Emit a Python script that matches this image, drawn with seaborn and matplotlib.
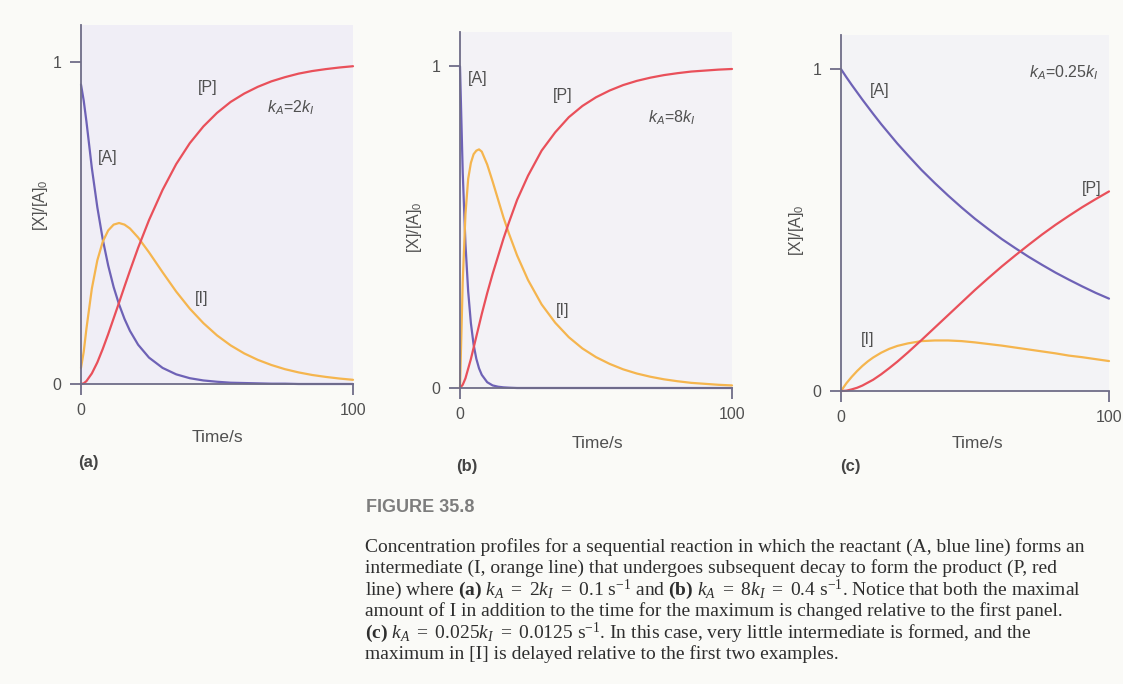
import matplotlib
matplotlib.use("Agg")
import matplotlib.pyplot as plt
import pandas as pd
import seaborn as sns

# ---- normalised concentrations [X]/[A]0 versus time (s) ----
# (a) k_A = 2 k_I
time_a = [0, 1, 2, 4, 6, 8, 10, 12, 14, 16, 18, 21, 25, 30, 35, 40, 45, 50,
          55, 60, 65, 70, 75, 80, 85, 90, 95, 100]
conc_A_a = [0.93, 0.88, 0.815, 0.670, 0.549, 0.449, 0.368, 0.301, 0.247, 0.202,
            0.165, 0.122, 0.082, 0.050, 0.030, 0.018, 0.011, 0.007, 0.004, 0.003,
            0.002, 0.001, 0.001, 0, 0, 0, 0, 0]
conc_I_a = [0.05, 0.10, 0.172, 0.297, 0.384, 0.442, 0.477, 0.495, 0.500, 0.495,
            0.483, 0.455, 0.409, 0.347, 0.287, 0.234, 0.189, 0.151, 0.120, 0.095,
            0.075, 0.059, 0.046, 0.036, 0.028, 0.022, 0.017, 0.013]
conc_P_a = [0, 0.002, 0.009, 0.033, 0.067, 0.109, 0.155, 0.204, 0.253, 0.303,
            0.352, 0.423, 0.509, 0.603, 0.683, 0.748, 0.800, 0.842, 0.876, 0.902,
            0.923, 0.940, 0.953, 0.964, 0.972, 0.978, 0.983, 0.987]

# (b) k_A = 8 k_I
time_b = [0, 1, 2, 3, 4, 5, 6, 7, 8, 10, 12, 14, 16, 18, 21, 25, 30, 35, 40, 45,
          50, 55, 60, 65, 70, 75, 80, 85, 90, 95, 100]
conc_A_b = [1.0, 0.670, 0.449, 0.301, 0.202, 0.135, 0.091, 0.061, 0.041, 0.018,
            0.008, 0.004, 0.002, 0.001, 0, 0, 0, 0, 0, 0, 0, 0, 0, 0, 0, 0, 0, 0,
            0, 0, 0]
conc_I_b = [0, 0.33, 0.54, 0.65, 0.70, 0.727, 0.738, 0.742, 0.735, 0.695, 0.642,
            0.586, 0.530, 0.480, 0.412, 0.336, 0.260, 0.203, 0.158, 0.123, 0.096,
            0.075, 0.058, 0.045, 0.035, 0.027, 0.021, 0.016, 0.013, 0.010, 0.008]
conc_P_b = [0, 0.01, 0.03, 0.06, 0.09, 0.125, 0.16, 0.195, 0.23, 0.295, 0.355,
            0.41, 0.465, 0.515, 0.585, 0.66, 0.738, 0.795, 0.842, 0.877, 0.904,
            0.925, 0.942, 0.955, 0.965, 0.973, 0.979, 0.984, 0.987, 0.990, 0.992]

# (c) k_A = 0.25 k_I
time_c = [0, 2, 4, 6, 8, 10, 12, 15, 18, 21, 25, 30, 35, 40, 45, 50, 55, 60, 65,
          70, 75, 80, 85, 90, 95, 100]
conc_A_c = [1.0, 0.975, 0.951, 0.928, 0.905, 0.883, 0.861, 0.829, 0.799, 0.769,
            0.732, 0.687, 0.646, 0.607, 0.570, 0.535, 0.503, 0.472, 0.444, 0.417,
            0.392, 0.368, 0.346, 0.325, 0.305, 0.287]
conc_I_c = [0, 0.024, 0.044, 0.062, 0.078, 0.092, 0.104, 0.119, 0.131, 0.140,
            0.148, 0.155, 0.157, 0.157, 0.155, 0.151, 0.146, 0.141, 0.135, 0.129,
            0.123, 0.117, 0.110, 0.105, 0.099, 0.093]
conc_P_c = [0, 0.001, 0.005, 0.010, 0.017, 0.026, 0.035, 0.052, 0.071, 0.091,
            0.120, 0.158, 0.197, 0.236, 0.275, 0.314, 0.351, 0.387, 0.421, 0.454,
            0.486, 0.516, 0.544, 0.571, 0.596, 0.620]

species = ["[A]", "[I]", "[P]"]
rate_labels = [r"$\mathsf{k}_\mathsf{A}$=2$\mathsf{k}_\mathsf{I}$",
               r"$\mathsf{k}_\mathsf{A}$=8$\mathsf{k}_\mathsf{I}$",
               r"$\mathsf{k}_\mathsf{A}$=0.25$\mathsf{k}_\mathsf{I}$"]
panel_letters = ["(a)", "(b)", "(c)"]
x_ticks = [0, 100]
y_ticks = [0, 1]

caption_title = "FIGURE 35.8"
caption_lines = [
    "Concentration profiles for a sequential reaction in which the reactant (A, blue line) forms an",
    "intermediate (I, orange line) that undergoes subsequent decay to form the product (P, red",
    r"line) where $\mathbf{(a)}$ $k_A\ =\ 2k_I\ =\ 0.1$ s$^{-1}$ and $\mathbf{(b)}$ "
    r"$k_A\ =\ 8k_I\ =\ 0.4$ s$^{-1}$. Notice that both the maximal",
    "amount of I in addition to the time for the maximum is changed relative to the first panel.",
    r"$\mathbf{(c)}$ $k_A\ =\ 0.025k_I\ =\ 0.0125$ s$^{-1}$. In this case, very little intermediate is formed, and the",
    "maximum in [I] is delayed relative to the first two examples.",
]

# ---- styling ----
palette = {"[A]": "#6e62b6", "[I]": "#f5b54e", "[P]": "#e9505a"}
axis_col = "#6f6d88"
text_col = "#505050"

sns.set_theme(style="white")
plt.rcParams["font.family"] = ["Liberation Sans", "DejaVu Sans"]
plt.rcParams.update({
    "mathtext.fontset": "custom",
    "mathtext.rm": "Liberation Serif",
    "mathtext.it": "Liberation Serif:italic",
    "mathtext.bf": "Liberation Serif:bold",
    "mathtext.sf": "Liberation Sans:italic",
    "mathtext.tt": "Liberation Sans",
})

W, H = 1123, 684
fig = plt.figure(figsize=(W / 100, H / 100), dpi=100, facecolor="#fafaf7")


def px_box(x0, x1, y_base, y_top):
    """Axes rectangle from pixel edges (origin top-left)."""
    return [x0 / W, 1 - y_base / H, (x1 - x0) / W, (y_base - y_top) / H]


def fig_text(x, y, s, **kw):
    fig.text(x / W, 1 - y / H, s, **kw)


panels = [
    dict(t=time_a, A=conc_A_a, I=conc_I_a, P=conc_P_a,
         box=(81, 353, 384, 25), ytop=1.115, face="#f0eef6",
         labels={"[P]": (46.7, 0.92), "[A]": (9.9, 0.705), "[I]": (44.5, 0.267)},
         rate=(77.2, 0.857), ylab=(40, 205), xlab=(217, 437), letter=(88, 463)),
    dict(t=time_b, A=conc_A_b, I=conc_I_b, P=conc_P_b,
         box=(460, 732, 388, 32), ytop=1.107, face="#f3f2f6",
         labels={"[A]": (6.6, 0.963), "[P]": (37.9, 0.91), "[I]": (37.9, 0.242)},
         rate=(77.9, 0.839), ylab=(414, 227), xlab=(597, 443), letter=(467, 466)),
    dict(t=time_c, A=conc_A_c, I=conc_I_c, P=conc_P_c,
         box=(841, 1109, 391, 35), ytop=1.106, face="#f3f3f6",
         labels={"[A]": (14.6, 0.935), "[P]": (93.7, 0.63), "[I]": (10.1, 0.161)},
         rate=(83.2, 0.988), ylab=(796, 230), xlab=(977, 444), letter=(850, 466)),
]

for i, p in enumerate(panels):
    ax = fig.add_axes(px_box(*p["box"]))
    ax.set_facecolor(p["face"])
    n = len(p["t"])
    df = pd.DataFrame({
        "time": list(p["t"]) * 3,
        "conc": list(p["A"]) + list(p["I"]) + list(p["P"]),
        "species": ["[A]"] * n + ["[I]"] * n + ["[P]"] * n,
    })
    sns.lineplot(data=df, x="time", y="conc", hue="species", hue_order=species,
                 palette=palette, linewidth=1.6, legend=False, ax=ax,
                 estimator=None)
    for ln in ax.lines:
        ln.set_clip_on(False)
        ln.set_solid_capstyle("round")

    ax.set_xlim(0, 100)
    ax.set_ylim(0, p["ytop"])
    ax.set_xticks(x_ticks)
    ax.set_yticks(y_ticks)
    ax.set_xticklabels([str(v) for v in x_ticks])
    ax.set_yticklabels([str(v) for v in y_ticks])
    ax.set_xlabel("")
    ax.set_ylabel("")
    for side in ("top", "right"):
        ax.spines[side].set_visible(False)
    for side in ("left", "bottom"):
        ax.spines[side].set_color(axis_col)
        ax.spines[side].set_linewidth(1.3)
    ax.tick_params(axis="both", direction="out", length=8, width=1.3,
                   color=axis_col, labelcolor=text_col, labelsize=11.5,
                   pad=6, bottom=True, left=True)

    for name, (tx, ty) in p["labels"].items():
        ax.text(tx, ty, name, ha="center", va="center", fontsize=11.5,
                color=text_col)
    ax.text(*p["rate"], rate_labels[i], ha="center", va="center",
            fontsize=11.5, color=text_col)

    fig_text(*p["ylab"], r"[X]/[A]$_\mathtt{0}$", rotation=90, ha="center",
             va="center", fontsize=11.5, color=text_col)
    fig_text(*p["xlab"], "Time/s", ha="center", va="center", fontsize=12.5,
             color=text_col)
    fig_text(*p["letter"], panel_letters[i], ha="center", va="center",
             fontsize=12, fontweight="bold", color="#444444")

# ---- caption ----
fig_text(366, 508, caption_title, ha="left", va="center", fontsize=13,
         fontweight="bold", color="#7d7d7d")
for k, line in enumerate(caption_lines):
    fig_text(365, 547 + 21.4 * k, line, ha="left", va="center", fontsize=14,
             family="Liberation Serif", color="#2e2e2e")

fig.savefig("out.png", dpi=100, facecolor=fig.get_facecolor())
